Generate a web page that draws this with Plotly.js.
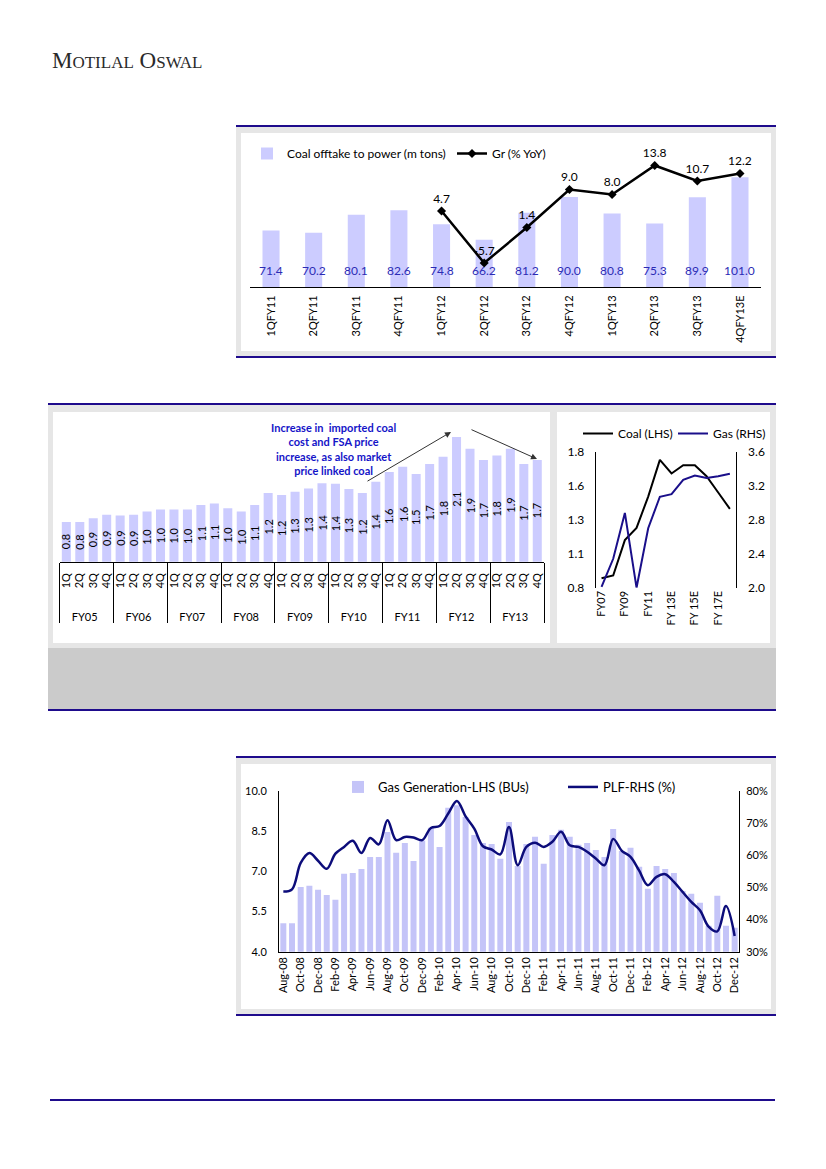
<!DOCTYPE html>
<html><head><meta charset="utf-8">
<script src="https://cdn.plot.ly/plotly-3.0.1.min.js"></script>
<style>html,body{margin:0;padding:0;background:#fff}#chart{width:826px;height:1169px}</style>
</head><body><div id="chart"></div>
<script>
// ---------- Chart 1: coal offtake to power ----------
const c1Categories = ['1QFY11','2QFY11','3QFY11','4QFY11','1QFY12','2QFY12','3QFY12','4QFY12','1QFY13','2QFY13','3QFY13','4QFY13E'];
const c1Offtake = [71.4,70.2,80.1,82.6,74.8,66.2,81.2,90.0,80.8,75.3,89.9,101.0];
const c1Growth = [null,null,null,null,4.7,-5.7,1.4,9.0,8.0,13.8,10.7,12.2];

// ---------- Chart 2 (left): quarterly price ----------
const c2Years = ['FY05','FY06','FY07','FY08','FY09','FY10','FY11','FY12','FY13'];
const c2Quarters = ['1Q','2Q','3Q','4Q'];
const c2Price = [0.80,0.80,0.86,0.91, 0.90,0.91,0.96,0.99, 0.99,0.99,1.06,1.08,
                 1.01,0.96,1.06,1.24, 1.21,1.26,1.31,1.39, 1.38,1.30,1.24,1.41,
                 1.56,1.64,1.53,1.68, 1.79,2.09,1.91,1.74, 1.81,1.91,1.68,1.74];
const c2Note = 'Increase in  imported coal<br>cost and FSA price<br>increase, as also market<br>price linked coal';

// ---------- Chart 2 (right): coal vs gas ----------
const c3Years = ['FY07','FY08','FY09','FY10','FY11','FY12','FY 13E','FY 14E','FY 15E','FY 16E','FY 17E','FY 18E'];
const c3Coal = [0.87,0.89,1.15,1.24,1.47,1.74,1.64,1.70,1.70,1.62,1.50,1.38];
const c3Gas  = [2.01,2.34,2.88,2.00,2.70,3.07,3.10,3.27,3.32,3.29,3.31,3.34];
const c3CoalTickVals = [0.8,1.05,1.3,1.55,1.8];
const c3CoalTickText = ['0.8','1.1','1.3','1.6','1.8'];
const c3GasTickVals = [2.0,2.4,2.8,3.2,3.6];
const c3GasTickText = ['2.0','2.4','2.8','3.2','3.6'];

// ---------- Chart 3: gas generation and PLF ----------
const c4Months = ['Aug-08','Sep-08','Oct-08','Nov-08','Dec-08',
  'Jan-09','Feb-09','Mar-09','Apr-09','May-09','Jun-09','Jul-09','Aug-09','Sep-09','Oct-09','Nov-09','Dec-09',
  'Jan-10','Feb-10','Mar-10','Apr-10','May-10','Jun-10','Jul-10','Aug-10','Sep-10','Oct-10','Nov-10','Dec-10',
  'Jan-11','Feb-11','Mar-11','Apr-11','May-11','Jun-11','Jul-11','Aug-11','Sep-11','Oct-11','Nov-11','Dec-11',
  'Jan-12','Feb-12','Mar-12','Apr-12','May-12','Jun-12','Jul-12','Aug-12','Sep-12','Oct-12','Nov-12','Dec-12'];
const c4GasGen = [5.06,5.06,6.42,6.46,6.31,6.12,5.94,6.91,6.94,7.09,7.54,7.54,8.47,7.69,8.06,7.39,8.15,8.63,7.91,9.37,
  9.47,9.03,8.36,8.06,8.02,7.47,8.84,7.20,8.02,8.29,7.28,8.36,8.55,8.29,7.99,8.06,7.80,7.54,8.58,7.76,
  7.88,7.17,6.35,7.20,7.09,6.94,6.27,6.16,5.83,4.97,6.09,4.97,4.89];
const c4PLF = [48.7,49.4,57.6,60.7,58.3,55.8,60.5,62.6,64.5,60.7,65.4,63.4,70.9,64.7,65.7,65.5,64.7,68.5,69.1,73.0,
  76.9,72.1,68.3,62.8,61.8,60.3,68.8,56.9,62.6,63.9,62.6,64.2,67.3,63.1,62.6,61.1,59.0,56.9,65.1,61.4,
  59.5,55.2,50.7,53.3,54.1,51.7,48.6,45.5,42.9,37.8,36.3,44.2,34.9];

// ---------- helpers (page geometry in px) ----------
const W = 826, H = 1169;
const px = x => x / W, py = y => 1 - y / H;
const hdom = (a, b) => [px(a), px(b)];
const vdom = (top, bottom) => [py(bottom), py(top)];
const FONT = 'Lato, "Open Sans", sans-serif';
const BLUE = '#1e0b8c';
const BAR = '#ccccff';

// multicategory arrays for chart 2 (en-spaces only lengthen the quarter label box so the FY row sits lower)
const QPAD = '\u2002\u2002\u2002';
const c2Outer = [], c2Inner = [];
c2Years.forEach(y => c2Quarters.forEach(q => { c2Outer.push(y); c2Inner.push(QPAD + q); }));
const c2YMin = 0.2;

const traces = [
  {type:'bar', x:c1Categories, y:c1Offtake, xaxis:'x', yaxis:'y', name:'Coal offtake to power (m tons)',
   marker:{color:BAR}, width:0.4, legend:'legend', hoverinfo:'skip'},
  {type:'scatter', mode:'lines+markers+text', x:c1Categories, y:c1Growth, xaxis:'x', yaxis:'y2', name:'Gr (% YoY)',
   line:{color:'#000', width:2.5}, marker:{symbol:'diamond', size:7, color:'#000'},
   texttemplate:'%{y:.1f}', textposition:'top center', textfont:{family:FONT, size:12, color:'#000'},
   legend:'legend', cliponaxis:false},

  {type:'bar', x:[c2Outer, c2Inner], y:c2Price, xaxis:'x2', yaxis:'y3', marker:{color:BAR}, width:0.67,
   showlegend:false, hoverinfo:'skip'},

  {type:'scatter', mode:'lines', x:c3Years, y:c3Coal, xaxis:'x3', yaxis:'y4', name:'Coal (LHS)',
   line:{color:'#000', width:2}, legend:'legend2'},
  {type:'scatter', mode:'lines', x:c3Years, y:c3Gas, xaxis:'x3', yaxis:'y5', name:'Gas (RHS)',
   line:{color:'#1a0f8a', width:2}, legend:'legend2'},

  {type:'bar', x:c4Months, y:c4GasGen, xaxis:'x4', yaxis:'y6', name:'Gas Generation-LHS (BUs)',
   marker:{color:'#c4c4f8'}, width:0.69, legend:'legend3'},
  {type:'scatter', mode:'lines', x:c4Months, y:c4PLF, xaxis:'x4', yaxis:'y7', name:'PLF-RHS (%)',
   line:{color:'#0c0c7a', width:2.5, shape:'spline', smoothing:1}, legend:'legend3'}
];

// annotations
const annotations = [];
annotations.push({xref:'paper', yref:'paper', x:px(50), y:py(60), xanchor:'left', yanchor:'middle', showarrow:false,
  text:'M<span style="font-size:17px">OTILAL</span> O<span style="font-size:17px">SWAL</span>',
  font:{family:'"Liberation Serif", serif', size:23, color:'#2a2a2a'}});
// chart 1 bar value labels (inside base)
c1Categories.forEach((c, i) => annotations.push({xref:'x', yref:'y domain', x:c, y:0, yanchor:'bottom', yshift:7,
  showarrow:false, text:c1Offtake[i].toFixed(1), font:{family:FONT, size:12, color:'#2b2bb5'}}));
// chart 2 bar value labels (centre of bar)
c2Price.forEach((v, i) => annotations.push({xref:'x2', yref:'y3', x:[c2Outer[i], c2Inner[i]].join(','), y:(v + c2YMin) / 2,
  showarrow:false, textangle:-90, text:v.toFixed(1), font:{family:FONT, size:11, color:'#000'}}));
annotations.push({xref:'paper', yref:'paper', x:px(333), y:py(449), xanchor:'center', yanchor:'middle', showarrow:false,
  text:'<b>' + c2Note + '</b>', align:'center', font:{family:FONT, size:11, color:'#1414c8'}});
annotations.push({xref:'paper', yref:'paper', x:px(451), y:py(432), ax:-85, ay:50, text:'', showarrow:true,
  arrowhead:2, arrowsize:1.2, arrowwidth:1, arrowcolor:'#333'});
annotations.push({xref:'paper', yref:'paper', x:px(537), y:py(459), ax:-67, ay:-30, text:'', showarrow:true,
  arrowhead:2, arrowsize:1.2, arrowwidth:1, arrowcolor:'#333'});

// page decoration shapes
const rect = (x0, y0, x1, y1, fill) => ({type:'rect', xref:'paper', yref:'paper', x0:px(x0), x1:px(x1), y0:py(y1), y1:py(y0),
  fillcolor:fill, line:{width:0}, layer:'below'});
const hline = (x0, x1, y) => ({type:'line', xref:'paper', yref:'paper', x0:px(x0), x1:px(x1), y0:py(y), y1:py(y),
  line:{color:BLUE, width:2}, layer:'below'});
const shapes = [
  rect(236,127,776,356,'#e6e6e6'), rect(241,133,771,351,'#ffffff'), hline(236,776,126), hline(236,776,357),
  rect(48,405,776,648,'#e6e6e6'), rect(53,412,550,643,'#ffffff'), rect(557,412,770,643,'#ffffff'),
  rect(48,648,776,709,'#cbcbcb'), hline(48,776,404), hline(48,776,710),
  rect(236,758,776,1014,'#e6e6e6'), rect(241,764,771,1009,'#ffffff'), hline(236,776,757), hline(236,776,1015),
  hline(50,775,1100)
];

const tf = s => ({family:FONT, size:s, color:'#000'});
const layout = {
  width:W, height:H, margin:{l:0,r:0,t:0,b:0}, paper_bgcolor:'#fff', plot_bgcolor:'rgba(0,0,0,0)',
  font:{family:FONT, color:'#000'}, showlegend:true, hovermode:false,
  xaxis:{domain:hdom(249.7,761.3), anchor:'y', type:'category', range:[-0.5,11.5], showline:true, linecolor:'#000',
    linewidth:1, ticks:'', tickangle:-90, tickfont:tf(11), ticklabelstandoff:3, showgrid:false, zeroline:false},
  yaxis:{domain:vdom(136,287), anchor:'x', range:[40,123.9], visible:false},
  yaxis2:{overlaying:'y', anchor:'x', side:'right', range:[-10.5,19.7], visible:false},

  xaxis2:{domain:hdom(59.6,544), anchor:'y3', type:'multicategory', range:[-0.5,35.5], showline:true, linecolor:'#000',
    ticks:'', tickangle:-90, tickfont:tf(11), ticklabelstandoff:6, showgrid:false, zeroline:false,
    showdividers:true, dividercolor:'#000', dividerwidth:1},
  yaxis3:{domain:vdom(420,561.7), anchor:'x2', range:[c2YMin,2.347], visible:false},

  xaxis3:{domain:hdom(595.7,735.7), anchor:'y4', type:'category', range:[-0.5,11.5], showline:false, ticks:'',
    tickvals:c3Years.filter((_, i) => i % 2 === 0), tickangle:-90, tickfont:tf(11), showgrid:false, zeroline:false},
  yaxis4:{domain:vdom(451.7,587.7), anchor:'x3', range:[0.8,1.8], tickvals:c3CoalTickVals, ticktext:c3CoalTickText,
    showline:true, linecolor:'#000', ticks:'', ticklabelstandoff:8, showgrid:false, zeroline:false, tickfont:tf(12)},
  yaxis5:{overlaying:'y4', anchor:'x3', side:'right', range:[2.0,3.6], tickvals:c3GasTickVals, ticktext:c3GasTickText,
    showline:true, linecolor:'#000', ticks:'', ticklabelstandoff:9, showgrid:false, zeroline:false, tickfont:tf(12)},

  xaxis4:{domain:hdom(279,739), anchor:'y6', type:'category', range:[-0.5,52.5], showline:true, linecolor:'#000',
    ticks:'', tickvals:c4Months.filter((_, i) => i % 2 === 0), tickangle:-90, tickfont:tf(11), showgrid:false, zeroline:false},
  yaxis6:{domain:vdom(791,951.7), anchor:'x4', range:[4,10], tick0:4, dtick:1.5, tickformat:'.1f', showline:true,
    linecolor:'#000', ticks:'', ticklabelstandoff:9, showgrid:false, zeroline:false, tickfont:tf(11)},
  yaxis7:{overlaying:'y6', anchor:'x4', side:'right', range:[30,80], dtick:10, ticksuffix:'%', showline:true,
    linecolor:'#000', ticks:'', ticklabelstandoff:4, showgrid:false, zeroline:false, tickfont:tf(11)},

  legend:{x:px(247), y:py(139), xanchor:'left', yanchor:'top', orientation:'h', bgcolor:'rgba(0,0,0,0)', font:tf(12),
    traceorder:'normal', entrywidth:160},
  legend2:{x:px(578), y:py(419), xanchor:'left', yanchor:'top', orientation:'h', bgcolor:'rgba(0,0,0,0)', font:tf(12),
    traceorder:'normal', entrywidth:50},
  legend3:{x:px(338), y:py(772), xanchor:'left', yanchor:'top', orientation:'h', bgcolor:'rgba(0,0,0,0)', font:tf(13),
    traceorder:'normal', entrywidth:180},
  shapes:shapes, annotations:annotations
};

Plotly.newPlot('chart', traces, layout, {staticPlot:true, displayModeBar:false});
</script></body></html>
